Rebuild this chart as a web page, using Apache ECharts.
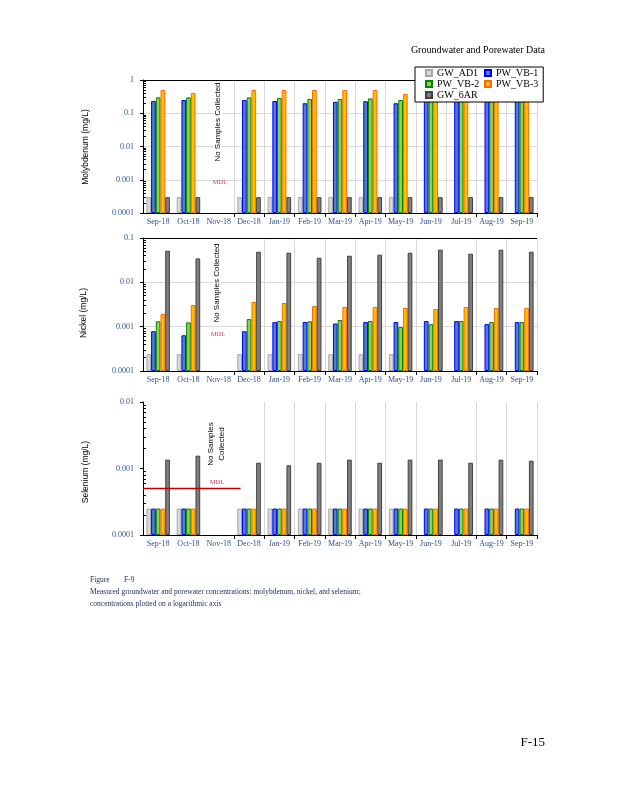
<!DOCTYPE html>
<html><head><meta charset="utf-8">
<script src="https://cdn.jsdelivr.net/npm/echarts@6/dist/echarts.min.js"></script>
<style>html,body{margin:0;padding:0;background:#fff}#c{width:618px;height:800px}</style>
</head><body><div id="c"></div>
<script>
// ---------- DATA ----------
const categories = ['Sep-18','Oct-18','Nov-18','Dec-18','Jan-19','Feb-19','Mar-19','Apr-19','May-19','Jun-19','Jul-19','Aug-19','Sep-19'];
const seriesNames = ['GW_AD1','PW_VB-1','PW_VB-2','PW_VB-3','GW_6AR'];
const legendCol1 = ['GW_AD1','PW_VB-2','GW_6AR'];
const legendCol2 = ['PW_VB-1','PW_VB-3'];

// Molybdenum (mg/L)
const moAD1 = [0.0003,0.0003,null,0.0003,0.0003,0.0003,0.0003,0.0003,0.0003,null,null,null,null];
const moVB1 = [0.234,0.25,null,0.25,0.234,0.20,0.22,0.23,0.20,0.25,0.25,0.25,0.25];
const moVB2 = [0.30,0.30,null,0.30,0.29,0.27,0.27,0.28,0.25,0.30,0.30,0.30,0.30];
const moVB3 = [0.50,0.41,null,0.50,0.50,0.50,0.50,0.50,0.38,0.50,0.50,0.50,0.50];
const mo6AR = [0.0003,0.0003,null,0.0003,0.0003,0.0003,0.0003,0.0003,0.0003,0.0003,0.0003,0.0003,0.0003];
const moTicks = ['0.0001','0.001','0.01','0.1','1'];

// Nickel (mg/L)
const niAD1 = [0.00024,0.00024,null,0.00024,0.00024,0.00024,0.00024,0.00024,0.00024,null,null,null,null];
const niVB1 = [0.00079,0.00064,null,0.00079,0.00127,0.00127,0.00118,0.00127,0.00127,0.00134,0.00134,0.00114,0.00127];
const niVB2 = [0.00132,0.00125,null,0.00148,0.00134,0.00132,0.00141,0.00134,0.00098,0.00114,0.00134,0.00127,0.00127];
const niVB3 = [0.00193,0.00308,null,0.0036,0.00342,0.00293,0.00278,0.00278,0.00264,0.0025,0.00278,0.00264,0.00264];
const ni6AR = [0.0516,0.0347,null,0.049,0.0466,0.0359,0.0398,0.042,0.0466,0.0545,0.0442,0.0545,0.049];
const niTicks = ['0.0001','0.001','0.01','0.1'];
const niMDL = 0.00045;

// Selenium (mg/L)
const seAD1 = [0.00025,0.00025,null,0.00025,0.00025,0.00025,0.00025,0.00025,0.00025,null,null,null,null];
const seVB1 = [0.00025,0.00025,null,0.00025,0.00025,0.00025,0.00025,0.00025,0.00025,0.00025,0.00025,0.00025,0.00025];
const seVB2 = [0.00025,0.00025,null,0.00025,0.00025,0.00025,0.00025,0.00025,0.00025,0.00025,0.00025,0.00025,0.00025];
const seVB3 = [0.00025,0.00025,null,0.00025,0.00025,0.00025,0.00025,0.00025,0.00025,0.00025,0.00025,0.00025,0.00025];
const se6AR = [0.00136,0.00156,null,0.00122,0.00112,0.00122,0.00136,0.00122,0.00136,0.00136,0.00122,0.00136,0.00131];
const seTicks = ['0.0001','0.001','0.01'];
const seMDL = 0.0005;
const seMDLSpan = [-0.5, 2.72]; // in category-index units

// ---------- CHART ----------
const SERIF = '"Liberation Serif", "Times New Roman", serif';
const SANS = '"Liberation Sans", Arial, sans-serif';
const LBL = '#2f4f8f';

const styles = [
  {color:'#d9d9d9', borderColor:'#a6a6a6'},
  {color:'#4f7fc4', borderColor:'#0000ff'},
  {color:'#92d050', borderColor:'#008000'},
  {color:'#ffc000', borderColor:'#ff6a00'},
  {color:'#808080', borderColor:'#404040'}
];

const panels = [
  {top:80,  min:0.0001, max:1,    ticks:moTicks, data:[moAD1,moVB1,moVB2,moVB3,mo6AR], hGrid:true,  vLines:[3,4,5,6,7,8,9,10,11,12], tIdx:[3,4,5,6,7,8,11], topLine:true},
  {top:238, min:0.0001, max:0.1,  ticks:niTicks, data:[niAD1,niVB1,niVB2,niVB3,ni6AR], hGrid:true,  vLines:[4,5,6,7,8,9,11,12],     tIdx:[3,4,5,6,7,8,9,11,12], topLine:true},
  {top:402, min:0.0001, max:0.01, ticks:seTicks, data:[seAD1,seVB1,seVB2,seVB3,se6AR], hGrid:false, vLines:[4,5,6,7,8,9,11,12],     tIdx:[3,4,5,6,7,8,9,11,12], topLine:false}
];

function minorVals(min, max){
  const out = [];
  for (let e = Math.round(Math.log10(min)); e < Math.round(Math.log10(max)); e++) {
    for (let m = 2; m <= 9; m++) out.push(+(m * Math.pow(10, e)).toPrecision(3));
  }
  return out;
}

const grid = [], xAxis = [], yAxis = [], series = [];
panels.forEach((p, pi) => {
  grid.push({left:143, top:p.top, width:394, height:133, containLabel:false});
  xAxis.push({
    type:'category', gridIndex:pi, data:categories, boundaryGap:true,
    axisLine:{show:true, onZero:false, lineStyle:{color:'#000', width:1}},
    axisTick:{show:true, length:4, inside:false, lineStyle:{color:'#000'}, interval:(i)=>p.tIdx.indexOf(i) >= 0},
    axisLabel:{interval:0, fontFamily:SERIF, fontSize:8, color:LBL, margin:5},
    splitLine:{show:true, lineStyle:{color:'#d9d9d9', width:1}, interval:(i)=>p.vLines.indexOf(i) >= 0}
  });
  yAxis.push({
    type:'log', logBase:10, gridIndex:pi, position:'left', min:p.min, max:p.max, startValue:p.min,
    axisLine:{show:true, onZero:false, lineStyle:{color:'#000', width:1}},
    axisTick:{show:true, inside:false, length:3, lineStyle:{color:'#000'}},
    axisLabel:{fontFamily:SERIF, fontSize:8, color:LBL, margin:9,
      formatter:(v)=>p.ticks[Math.round(Math.log10(v / p.min))] || ''},
    splitLine:{show:p.hGrid, lineStyle:{color:'#d9d9d9', width:1}}
  });
  yAxis.push({
    type:'log', logBase:10, gridIndex:pi, position:'left', min:p.min, max:p.max,
    axisLine:{show:false, onZero:false}, axisLabel:{show:false}, splitLine:{show:false},
    axisTick:{show:true, inside:true, length:3, customValues:minorVals(p.min, p.max), lineStyle:{color:'#000'}}
  });
  p.data.forEach((arr, k) => {
    const s = {
      type:'bar', name:seriesNames[k], xAxisIndex:pi, yAxisIndex:pi*2, data:arr,
      barWidth:4.7, barGap:'0%', silent:true,
      itemStyle:Object.assign({borderWidth:1}, styles[k])
    };
    if (k === 0) {
      const ml = [];
      if (p.topLine) ml.push({yAxis:p.max, lineStyle:{color:'#000', width:1, type:'solid'}});
      if (pi === 1) ml.push({yAxis:niMDL, lineStyle:{color:'#c00000', width:1.5, type:'solid'}});
      if (ml.length) s.markLine = {silent:true, symbol:'none', label:{show:false}, animation:false, data:ml};
    }
    series.push(s);
  });
});

// hidden value axis on panel 3 for the partial MDL line
xAxis.push({type:'value', gridIndex:2, min:-0.5, max:categories.length - 0.5, show:false,
  axisLine:{onZero:false}});
series.push({
  type:'line', xAxisIndex:3, yAxisIndex:4, symbol:'none', silent:true, z:5,
  lineStyle:{color:'#c00000', width:1.5},
  data:[[seMDLSpan[0], seMDL],[seMDLSpan[1], seMDL]]
});

function txt(x, y, text, o) {
  return Object.assign({type:'text', x, y, silent:true, z:20,
    style:Object.assign({text, fill:'#000', font:'8px ' + SANS, align:'center', verticalAlign:'middle'}, o && o.style)},
    o && o.el);
}
const R = Math.PI / 2;
const graphics = [
  txt(545, 50, 'Groundwater and Porewater Data', {style:{font:'10px ' + SERIF, align:'right'}}),
  txt(86, 147, 'Molybdenum (mg/L)', {style:{font:'8.5px ' + SANS}, el:{rotation:R}}),
  txt(84, 313, 'Nickel (mg/L)', {style:{font:'8.5px ' + SANS}, el:{rotation:R}}),
  txt(86, 472, 'Selenium (mg/L)', {style:{font:'8.5px ' + SANS}, el:{rotation:R}}),
  txt(218, 122, 'No Samples Collected', {style:{font:'8px ' + SANS, backgroundColor:'#fff'}, el:{rotation:R}}),
  txt(217, 283, 'No Samples Collected', {style:{font:'8px ' + SANS, backgroundColor:'#fff'}, el:{rotation:R}}),
  txt(216, 444, 'No Samples\nCollected', {style:{font:'8px ' + SANS, lineHeight:11, backgroundColor:'#fff'}, el:{rotation:R}}),
  txt(220, 182, 'MDL', {style:{font:'6.5px ' + SERIF, fill:'#d0405a'}}),
  txt(218, 334, 'MDL', {style:{font:'6.5px ' + SERIF, fill:'#d0405a'}}),
  txt(217, 482, 'MDL', {style:{font:'6.5px ' + SERIF, fill:'#d0405a'}}),
  txt(90, 580, 'Figure', {style:{font:'7.5px ' + SERIF, fill:'#1a2a5a', align:'left'}}),
  txt(124, 580, 'F-9', {style:{font:'7.5px ' + SERIF, fill:'#1a2a5a', align:'left'}}),
  txt(90, 592, 'Measured groundwater and porewater concentrations: molybdenum, nickel, and selenium;', {style:{font:'7.5px ' + SERIF, fill:'#1a2a5a', align:'left'}}),
  txt(90, 604, 'concentrations plotted on a logarithmic axis', {style:{font:'7.5px ' + SERIF, fill:'#1a2a5a', align:'left'}}),
  txt(545, 743, 'F-15', {style:{font:'13px ' + SERIF, align:'right'}})
];

const legendBase = {
  orient:'vertical', itemWidth:6, itemHeight:6, itemGap:1, itemTextGap:4, icon:'rect',
  selectedMode:false, borderRadius:0,
  textStyle:{fontFamily:SERIF, fontSize:10, color:'#000'}
};

const chart = echarts.init(document.getElementById('c'), null, {renderer:'canvas'});
chart.setOption({
  animation:false,
  backgroundColor:'#fff',
  grid, xAxis, yAxis, series,
  legend:[
    Object.assign({}, legendBase, {data:legendCol1, left:415, top:67, z:10,
      padding:[1,64,2,10], backgroundColor:'#fff', borderColor:'#000', borderWidth:1}),
    Object.assign({}, legendBase, {data:legendCol2, left:484, top:68, z:11,
      padding:0, backgroundColor:'transparent', borderWidth:0})
  ],
  graphic:graphics
});
</script>
</body></html>
